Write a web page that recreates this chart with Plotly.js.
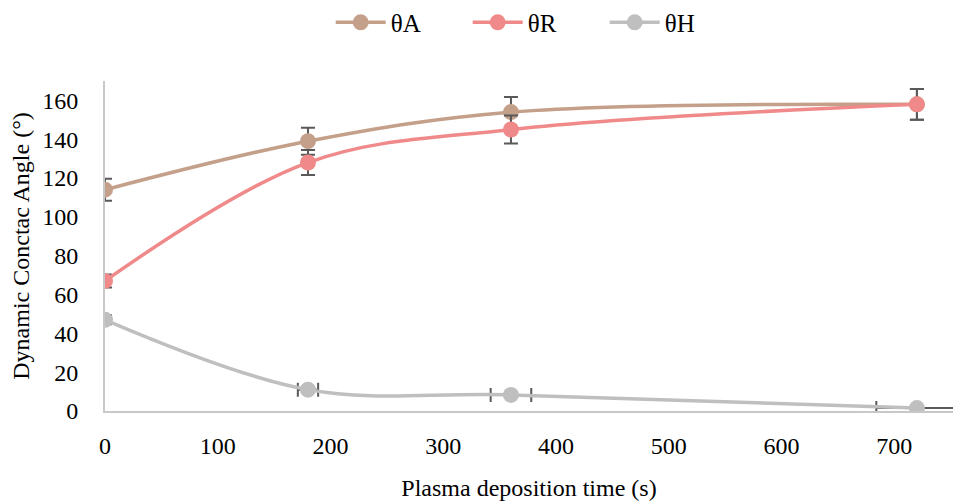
<!DOCTYPE html>
<html>
<head>
<meta charset="utf-8">
<script src="https://cdn.plot.ly/plotly-3.0.1.min.js"></script>
<style>html,body{margin:0;padding:0;background:#fff;}#chart{width:953px;height:501px;}</style>
</head>
<body>
<div id="chart"></div>
<script>
const times = [0, 180, 360, 720];
const thetaA = [114, 139, 154, 158];
const thetaR = [67, 128, 145, 158];
const thetaH = [47, 11, 8.3, 1.5];
const seriesNames = ['θA', 'θR', 'θH'];
const errPercent = 5;

const colors = ['#C4A08A', '#F08A8A', '#BFBFBF'];
const errColor = '#595959';
const font = 'Liberation Serif, Times New Roman, serif';

function mk(y, i, withX) {
  const t = {
    x: times, y: y, name: seriesNames[i], type: 'scatter', mode: 'lines+markers',
    line: {color: colors[i], width: 3.5, shape: 'spline', smoothing: 1},
    marker: {color: colors[i], size: 16},
    error_y: {type: 'percent', value: errPercent, color: errColor, thickness: 2, width: 7}
  };
  if (withX) t.error_x = {type: 'percent', value: errPercent, color: errColor, thickness: 2, width: 7};
  return t;
}

const data = [mk(thetaA, 0, false), mk(thetaR, 1, false), mk(thetaH, 2, true)];

const layout = {
  width: 953, height: 501,
  margin: {l: 105, r: 0, t: 81, b: 90},
  paper_bgcolor: '#fff', plot_bgcolor: '#fff',
  font: {family: font, size: 24, color: '#000'},
  showlegend: true,
  legend: {orientation: 'h', x: 0.347, xanchor: 'left', xref: 'container', y: 0.955, yref: 'container', yanchor: 'middle',
           font: {size: 25}, itemwidth: 50, entrywidth: 72, entrywidthmode: 'pixels'},
  xaxis: {
    range: [0, 752], showgrid: false, zeroline: false,
    showline: true, linecolor: '#C8C8C8', linewidth: 2,
    tickvals: [0,100,200,300,400,500,600,700], ticks: '', ticklen: 0,
    ticklabelstandoff: 12,
    tickfont: {size: 24},
    title: {text: 'Plasma deposition time (s)', font: {size: 24}, standoff: 22}
  },
  yaxis: {
    range: [0, 170], showgrid: false, zeroline: false,
    showline: true, linecolor: '#C8C8C8', linewidth: 2,
    tickvals: [0,20,40,60,80,100,120,140,160], ticks: '',
    ticklabelstandoff: 20,
    tickfont: {size: 24},
    title: {text: 'Dynamic Conctac Angle (°)', font: {size: 24}, standoff: 6}
  }
};

Plotly.newPlot('chart', data, layout, {displayModeBar: false, staticPlot: true});
</script>
</body>
</html>
